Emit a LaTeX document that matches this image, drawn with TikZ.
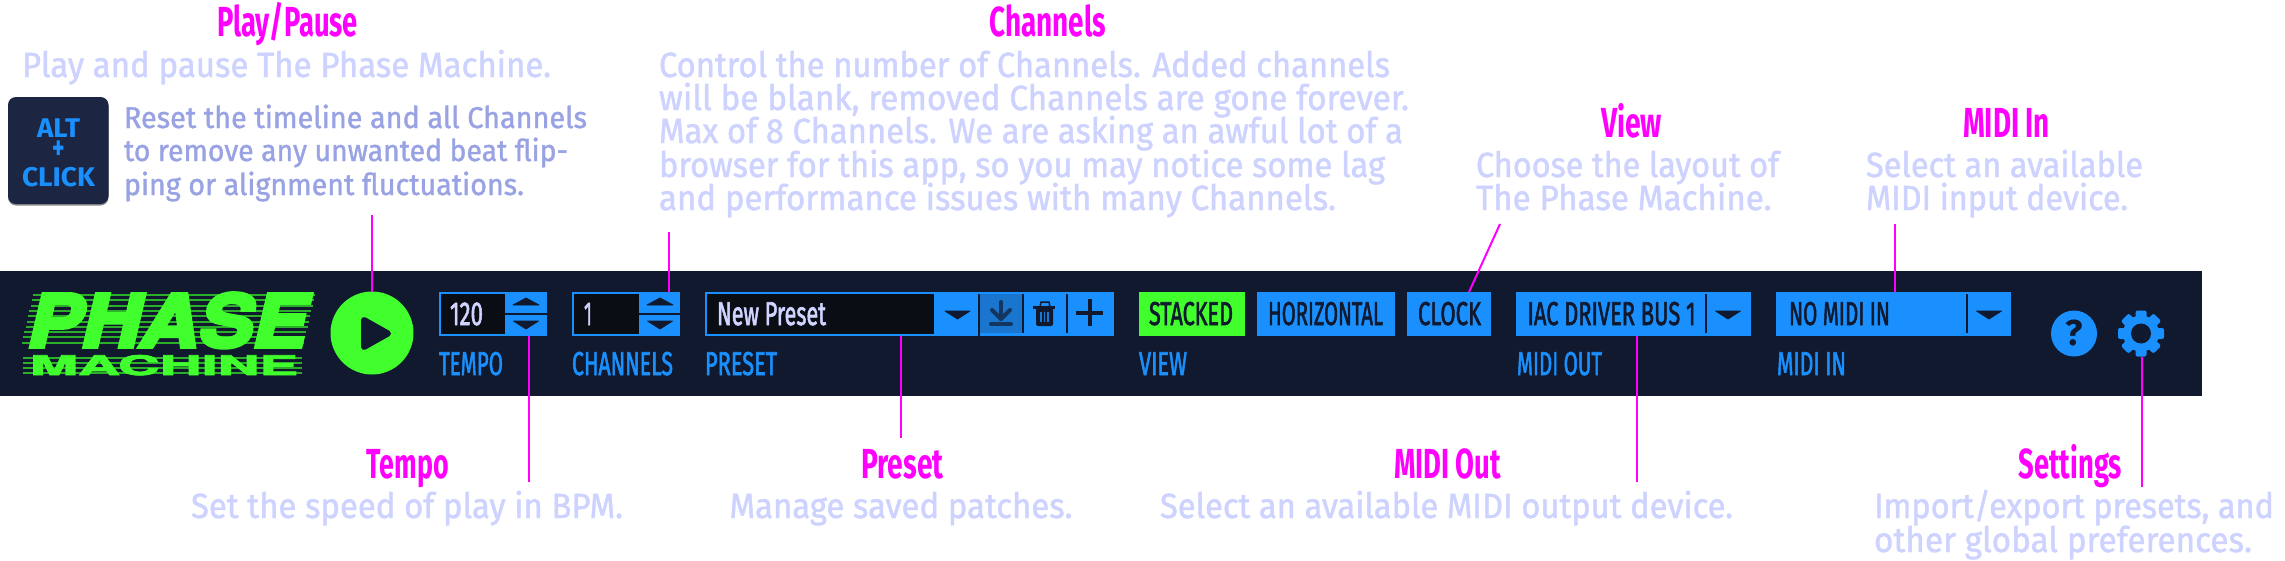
\documentclass[tikz,border=0pt]{standalone}
\usepackage{graphicx}
\usepackage{fontspec}
\setmainfont{Fira Sans}
\newfontfamily\bodyf[FakeBold=1.3]{Fira Sans}
\newfontfamily\uif[FakeBold=2.2]{Fira Sans}
\newfontfamily\logof[FakeBold=5]{TeX Gyre Heros}
\newfontfamily\logog[FakeBold=2.5]{TeX Gyre Heros}
\definecolor{barbg}{HTML}{10192E}
\definecolor{uiblue}{HTML}{1A90FF}
\definecolor{uihi}{HTML}{1A75CE}
\definecolor{inkdark}{HTML}{0A0D14}
\definecolor{ledgreen}{HTML}{40FF2C}
\definecolor{stripegreen}{HTML}{2BAE2A}
\definecolor{pale}{HTML}{CDD2FF}
\definecolor{mid}{HTML}{99A3E3}
\definecolor{lilac}{HTML}{D0D4FF}
\definecolor{keybg}{HTML}{1C2642}
\definecolor{mag}{HTML}{FF00FF}
\newsavebox\fitsave
\newcommand\fit[2]{\sbox\fitsave{#2}\pgfmathsetmacro\fitr{#1/\the\wd\fitsave}\scalebox{\fitr}[1]{\usebox\fitsave}}
\newcommand\tx[6][]{\node[txt,#1] (#2) at (#3,#4) {\fit{#5}{#6}};}
\newcommand\uptri[3]{\fill[tri] (#1-13,#3) -- (#1,#2) -- (#1+13,#3) -- cycle;}
\newcommand\dntri[3]{\fill[tri] (#1-12.5,#2) -- (#1+12.5,#2) -- (#1,#3) -- cycle;}
\tikzset{
  txt/.style={anchor=base west,inner sep=0pt,outer sep=0pt},
  ttl/.style={font=\fontsize{42}{42}\selectfont\bfseries,text=mag},
  bod/.style={font=\fontsize{35}{35}\selectfont\bodyf,text=pale},
  subt/.style={font=\fontsize{30}{30}\selectfont\bodyf,text=mid},
  lab/.style={font=\fontsize{33}{33}\selectfont\uif,text=uiblue},
  dk/.style={font=\fontsize{33}{33}\selectfont\uif,text=barbg},
  lt/.style={font=\fontsize{33}{33}\selectfont\uif,text=lilac},
  key/.style={font=\fontsize{27}{27}\selectfont\bfseries,text=uiblue},
  box/.style={anchor=north west,inner sep=0pt,outer sep=0pt,fill=#1},
  box/.default=uiblue,
  callout/.style={draw=mag,line width=2pt},
  tri/.style={fill=barbg,draw=barbg,line width=0.8pt,line join=round},
  sep/.style={draw=barbg,line width=2pt},
  stripe/.style={draw=stripegreen,line width=2pt},
}
\begin{document}
\begin{tikzpicture}[x=1pt,y=-1pt]
\useasboundingbox (0,0) rectangle (2285,560);
\fill[white] (0,0) rectangle (2285,560);
% toolbar
\node[box=barbg,minimum width=2202pt,minimum height=125pt] (bar) at (0,271) {};
% logo
\foreach \y in {295,300.3,...,346} {
  \draw[stripe] ({34-(\y-292)*0.24},\y) -- ({316-(\y-292)*0.24},\y);
}
\foreach \y in {358,363,368,373} {
  \draw[stripe] (23,\y) -- (302,\y);
}
\node[txt,font=\logof\bfseries\itshape,text=ledgreen] (logophase) at (28,347) {\resizebox{279pt}{54pt}{PHASE}};
\node[txt,font=\logog\bfseries,text=ledgreen] (logomachine) at (30,375) {\resizebox{268pt}{20pt}{MACHINE}};
% play
\node[circle,fill=ledgreen,minimum size=83pt,inner sep=0pt,outer sep=0pt] (play) at (372,333) {};
\fill[fill=barbg,draw=barbg,line width=6pt,line join=round] (364,320) -- (388,333.5) -- (364,347) -- cycle;
% tempo
\node[box,minimum width=108pt,minimum height=44pt] (tempobox) at (439,292) {};
\node[box=inkdark,minimum width=64pt,minimum height=40pt] (tempofield) at (441,294) {};
\draw[sep] (505,314) -- (547,314);
\uptri{526}{298}{305}
\dntri{526}{321}{329}
\tx[lt]{tempoval}{450}{325}{33}{120}
\tx[lab]{tempolab}{439}{375}{64}{TEMPO}
% channels
\node[box,minimum width=108pt,minimum height=44pt] (chanbox) at (572,292) {};
\node[box=inkdark,minimum width=65pt,minimum height=40pt] (chanfield) at (574,294) {};
\draw[sep] (639,314) -- (680,314);
\uptri{660}{298}{305}
\dntri{660}{321}{329}
\tx[lt]{chanval}{584}{325}{8}{1}
\tx[lab]{chanlab}{572}{375}{101}{CHANNELS}
% preset
\node[box,minimum width=409pt,minimum height=44pt] (presetbox) at (705,292) {};
\node[box=inkdark,minimum width=227pt,minimum height=40pt] (presetfield) at (707,294) {};
\dntri{957.5}{311}{319}
\node[box=uihi,minimum width=44pt,minimum height=39pt] (savehi) at (979,294) {};
\draw[sep] (978.5,294) -- (978.5,336);
\draw[sep] (1023,294) -- (1023,333);
\draw[sep] (1067,294) -- (1067,333);
\begin{scope}[draw=barbg!70!uihi,line width=4pt,line cap=round,line join=round]
  \draw (1001,302) -- (1001,319);
  \draw (992,310) -- (1001,319) -- (1010,310);
  \draw (991,324) -- (1011,324);
\end{scope}
\draw[barbg,line width=3pt] (1033,307.5) -- (1055,307.5);
\draw[barbg,line width=1.5pt] (1040,307) -- (1041,302) -- (1049,302) -- (1050,307);
\fill[barbg,rounded corners=2pt] (1036,308) rectangle (1053,326);
\draw[uiblue!80!barbg,line width=1.2pt] (1041,312) -- (1041,322) (1044.5,312) -- (1044.5,322) (1048,312) -- (1048,322);
\draw[barbg,line width=4pt] (1076,313) -- (1103,313) (1090,299) -- (1090,326);
\tx[lt]{presetval}{717}{325}{109}{New Preset}
\tx[lab]{presetlab}{705}{375}{72}{PRESET}
% view
\node[box=ledgreen,minimum width=106pt,minimum height=44pt] (stacked) at (1139,292) {};
\node[box,minimum width=138pt,minimum height=44pt] (horiz) at (1257,292) {};
\node[box,minimum width=84pt,minimum height=44pt] (clock) at (1407,292) {};
\tx[dk]{stackedt}{1149}{325}{84}{STACKED}
\tx[dk]{horizt}{1268}{325}{115}{HORIZONTAL}
\tx[dk]{clockt}{1418}{325}{63}{CLOCK}
\tx[lab]{viewlab}{1139}{375}{48}{VIEW}
% midi out
\node[box,minimum width=235pt,minimum height=44pt] (midiout) at (1516,292) {};
\draw[sep] (1706,294) -- (1706,333);
\dntri{1728}{311}{319}
\tx[dk]{midioutt}{1527.5}{325}{168}{IAC DRIVER BUS 1}
\tx[lab]{midioutlab}{1517}{375}{85}{MIDI OUT}
% midi in
\node[box,minimum width=235pt,minimum height=44pt] (midiin) at (1776,292) {};
\draw[sep] (1967,294) -- (1967,333);
\dntri{1989}{311}{319}
\tx[dk]{midiint}{1789}{325}{101}{NO MIDI IN}
\tx[lab]{midiinlab}{1777}{375}{69}{MIDI IN}
% help
\node[circle,fill=uiblue,minimum size=46pt,inner sep=0pt,outer sep=0pt,font=\fontsize{36}{36}\selectfont\bfseries,text=barbg] (help) at (2074,333.5) {?};
% gear
\node[circle,minimum size=46pt,inner sep=0pt,outer sep=0pt] (gear) at (2141,333.5) {};
\foreach \a in {0,45,...,315} {
  \fill[uiblue,rounded corners=2pt,rotate around={\a:(gear.center)}] (2135.5,310.5) rectangle (2146.5,325);
}
\fill[uiblue] (gear.center) circle[radius=18];
\fill[barbg] (gear.center) circle[radius=10];
% key badge
\fill[black!45!white,rounded corners=8pt] (8,98) rectangle (108.5,205.5);
\node[box=keybg,rounded corners=8pt,minimum width=100.5pt,minimum height=107pt] (keybadge) at (8,97) {};
\tx[key]{keyalt}{37}{137}{43}{ALT}
\tx[key,font=\fontsize{34}{34}\selectfont\bfseries]{keyplus}{52.5}{159}{12.5}{+}
\tx[key]{keyclick}{22}{186}{73}{CLICK}
% callout text
\tx[ttl]{tplay}{217}{36.5}{141}{Play/Pause}
\tx[bod]{bplay}{22}{77}{529}{Play and pause The Phase Machine.}
\tx[subt]{ra}{124}{128}{463}{Reset the timeline and all Channels}
\tx[subt]{rb}{124}{161}{444}{to remove any unwanted beat flip-}
\tx[subt]{rc}{124}{195}{400}{ping or alignment fluctuations.}
\tx[ttl]{tchan}{989.5}{36.5}{116.5}{Channels}
\tx[bod]{ca}{659}{77}{731}{Control the number of Channels. Added channels}
\tx[bod]{cb}{659}{110}{750}{will be blank, removed Channels are gone forever.}
\tx[bod]{cc}{659}{143}{744}{Max of 8 Channels. We are asking an awful lot of a}
\tx[bod]{cd}{659}{177}{726}{browser for this app, so you may notice some lag}
\tx[bod]{ce}{659}{210}{677}{and performance issues with many Channels.}
\tx[ttl]{tview}{1601}{137}{61}{View}
\tx[bod]{va}{1476}{177}{303}{Choose the layout of}
\tx[bod]{vb}{1476}{210}{295.5}{The Phase Machine.}
\tx[ttl]{tmin}{1963}{137}{87}{MIDI In}
\tx[bod]{ia}{1866}{177}{277}{Select an available}
\tx[bod]{ib}{1866}{210}{262}{MIDI input device.}
\tx[ttl]{ttempo}{366.7}{478}{82}{Tempo}
\tx[bod]{bt}{191}{518}{432}{Set the speed of play in BPM.}
\tx[ttl]{tpreset}{861}{478}{82.5}{Preset}
\tx[bod]{bp}{729.5}{518}{343}{Manage saved patches.}
\tx[ttl]{tmout}{1394}{478}{107}{MIDI Out}
\tx[bod]{bo}{1160}{518}{573}{Select an available MIDI output device.}
\tx[ttl]{tset}{2018.6}{478}{103.5}{Settings}
\tx[bod]{sa}{1874}{518}{400}{Import/export presets, and}
\tx[bod]{sb}{1874}{552}{378}{other global preferences.}
% connectors
\coordinate (playend) at (372,215);
\coordinate (chanend) at (669,232);
\coordinate (viewend) at (1500,224);
\coordinate (clockpt) at (1469,292);
\coordinate (minend) at (1894.5,224);
\coordinate (tempoend) at (529,482);
\coordinate (presetend) at (901,438);
\coordinate (moutend) at (1636.5,482);
\coordinate (setend) at (2142,487);
\draw[callout] (playend) -- (play.north);
\draw[callout] (chanend) -- (chanend |- chanbox.north);
\draw[callout] (viewend) -- (clockpt |- clock.north);
\draw[callout] (minend) -- (minend |- midiin.north);
\draw[callout] (tempoend) -- (tempoend |- tempobox.south);
\draw[callout] (presetend) -- (presetend |- presetbox.south);
\draw[callout] (moutend) -- (moutend |- midiout.south);
\draw[callout] (setend) -- (setend |- gear.south);
\end{tikzpicture}
\end{document}
